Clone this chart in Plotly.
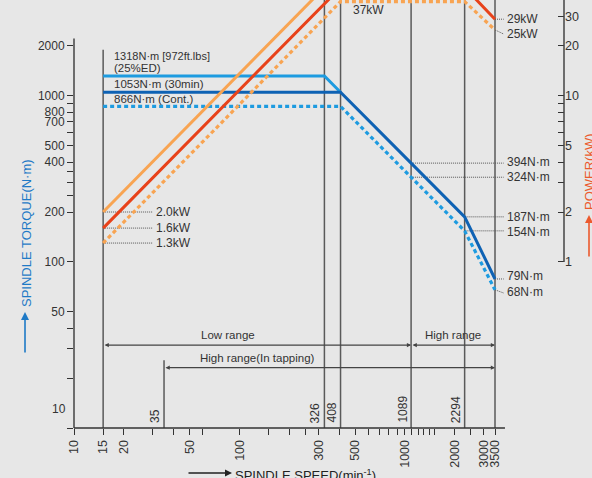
import numpy as np
import plotly.graph_objects as go

# ---- data -------------------------------------------------------------
# spindle speeds (min^-1) where the ratings change
speed_marks = [35, 326, 408, 1089, 2294]

# torque ratings (N·m)
t25_speed = [15, 326, 408]
t25_torque = [1318, 1318, 1053]
t30_speed = [15, 408, 1089, 2294, 3500]
t30_torque = [1053, 1053, 394, 187, 79]
tc_speed = [15, 408, 1089, 2294, 3500]
tc_torque = [866, 866, 324, 154, 68]

# power ratings (kW)
p25_speed = [15, 326]
p25_power = [2.0, 45]
p30_speed = [15, 408, 2294, 3500]
p30_power = [1.6, 45, 45, 29]
pc_speed = [15, 408, 2294, 3500]
pc_power = [1.3, 37, 37, 25]

# axis ticks
x_tickvals = [10, 15, 20, 30, 40, 50, 60, 100, 150, 200, 250, 300, 400, 500, 600,
              700, 800, 900, 1000, 1100, 1200, 1300, 1400, 1500, 2000, 2500, 3000, 3500]
x_labelled = [10, 15, 20, 50, 100, 300, 500, 1000, 2000, 3000, 3500]
t_tickvals = [10, 20, 30, 40, 50, 100, 200, 250, 300, 350, 400, 500, 600, 700, 800, 900, 1000, 2000]
t_labelled = [50, 100, 200, 400, 500, 700, 800, 1000, 2000]
p_tickvals = [1, 2, 3, 4, 5, 6, 7, 8, 9, 10, 20, 30]
p_labelled = [1, 2, 5, 10, 20, 30]

# ---- styles -----------------------------------------------------------
BG = "#e7e7e7"
INK = "#333333"
GRID = "#5a5a5a"
LIGHT_BLUE = "#1d9be0"
DARK_BLUE = "#0e62b4"
LIGHT_ORANGE = "#f8a452"
RED = "#e8421a"
FONT = "Liberation Sans, Arial, sans-serif"

X_RANGE = [1, 3.961]
T_RANGE = [1, 3.578]
P_RANGE = [T_RANGE[0] - 2, T_RANGE[1] - 2]

PLOT_L, PLOT_W, PLOT_B, PLOT_H = 74, 490, 50, 428


def px_to_paper(px, py):
    return (px - PLOT_L) / PLOT_W, (PLOT_H - py) / PLOT_H


def frac(v, rng):
    return (np.log10(v) - rng[0]) / (rng[1] - rng[0])


fig = go.Figure()


def line(xs, ys, color, width, dash="solid", axis="y"):
    fig.add_trace(go.Scatter(x=xs, y=ys, mode="lines", yaxis=axis,
                             line=dict(color=color, width=width, dash=dash),
                             hoverinfo="skip", showlegend=False))


# vertical guide lines
line([15, 15], [10, 1900], GRID, 1.5)
line([35, 35], [10, 25.6], GRID, 1.5)
for s in speed_marks[1:] + [3500]:
    line([s, s], [10, 20000], GRID, 1.5)

# range bars
LOW_Y, TAP_Y = 31.6, 23.1

# leader lines for torque labels
LEAD_END = 3950
leader = dict(color="#555555", width=1, dash="1px,1px")
for s, t, t_end in [(1089, 394, 394), (1089, 324, 324), (2294, 187, 187),
                    (2294, 154, 154), (3500, 79, 79), (3500, 68, 65)]:
    line([s, LEAD_END], [t, t_end], **leader)

# torque curves
line(tc_speed, tc_torque, LIGHT_BLUE, 3.2, "4px,3px")
line(t25_speed, t25_torque, LIGHT_BLUE, 3)
line(t30_speed, t30_torque, DARK_BLUE, 3)

# leader lines for power labels
for p in [p25_power[0], p30_power[0], pc_power[0]]:
    line([15, 30], [p, p], axis="y2", **leader)
line([3500, LEAD_END], [29, 29], axis="y2", **leader)
line([3500, LEAD_END], [25, 23.6], axis="y2", **leader)

# power curves
line(pc_speed, pc_power, LIGHT_ORANGE, 3.2, "4px,3px", axis="y2")
line(p25_speed, p25_power, LIGHT_ORANGE, 3, axis="y2")
line(p30_speed, p30_power, RED, 3, axis="y2")

annotations = []


def label(text, sx, v, axis="y", size=12, xanchor="left", yanchor="middle",
          xshift=0, yshift=0, angle=0, color=INK):
    annotations.append(dict(x=np.log10(sx), y=np.log10(v), xref="x", yref=axis,
                            text=text, showarrow=False, xanchor=xanchor,
                            yanchor=yanchor, xshift=xshift, yshift=yshift,
                            textangle=angle, font=dict(size=size, color=color)))


# torque rating labels
label("1318N·m [972ft.lbs]", 15, 1318, size=11, xshift=9, yshift=20)
label("(25%ED)", 15, 1318, size=11.5, xshift=9, yshift=8)
label("1053N·m (30min)", 15, 1053, size=11.5, xshift=9, yshift=8)
label("866N·m (Cont.)", 15, 866, size=11.5, xshift=9, yshift=7)

# power start labels
for p in [p25_power[0], p30_power[0], pc_power[0]]:
    label(f"{p:.1f}kW", 30, p, axis="y2", xshift=1)

label("37kW", 600, 37, axis="y2", xanchor="center", yshift=-8)
label("29kW", LEAD_END, 29, axis="y2", xshift=1)
label("25kW", LEAD_END, 25, axis="y2", xshift=1, yshift=-4)

# torque end labels
for t, dy in [(394, 1), (324, 0), (187, 0), (154, -1), (79, 3), (68, -2)]:
    label(f"{t}N·m", LEAD_END, t, xshift=1, yshift=dy)

# speed break labels
for s in speed_marks:
    label(str(s), s, 10, size=12, angle=-90, xanchor="right", yanchor="bottom",
          xshift=0, yshift=3)

# range bars
label("Low range", 85, LOW_Y, size=11.5, xanchor="center", yshift=10)
label("High range", 1952, LOW_Y, size=11.5, xanchor="center", yshift=10)
label("High range(In tapping)", 128, TAP_Y, size=11.5, xanchor="center", yshift=10)


def bar(s0, s1, t):
    annotations.append(dict(x=np.log10(s1), y=np.log10(t), ax=np.log10(s0), ay=np.log10(t),
                            xref="x", yref="y", axref="x", ayref="y", text="",
                            showarrow=True, arrowside="end+start", arrowhead=2,
                            startarrowhead=2, arrowsize=0.7, startarrowsize=0.7,
                            arrowwidth=1.2, arrowcolor="#444444"))


bar(15, 1089, LOW_Y)
bar(1089, 3500, LOW_Y)
bar(35, 3500, TAP_Y)

# axis titles
xp, yp = px_to_paper(26, 233)
annotations.append(dict(x=xp, y=yp, xref="paper", yref="paper", text="SPINDLE TORQUE(N·m)",
                        xanchor="center", yanchor="middle",
                        showarrow=False, textangle=-90, font=dict(size=13, color="#1f7ac6")))
xp, yp = px_to_paper(25, 312)
annotations.append(dict(x=xp, y=yp, xref="paper", yref="paper", text="", showarrow=True,
                        ax=0, ay=42, arrowhead=2, arrowsize=1, arrowwidth=1.6,
                        arrowcolor="#1f7ac6"))
xp, yp = px_to_paper(589, 172)
annotations.append(dict(x=xp, y=yp, xref="paper", yref="paper", text="POWER(kW)",
                        xanchor="center", yanchor="middle",
                        showarrow=False, textangle=-90, font=dict(size=13, color="#ec5a2e")))
xp, yp = px_to_paper(589, 215)
annotations.append(dict(x=xp, y=yp, xref="paper", yref="paper", text="", showarrow=True,
                        ax=0, ay=43, arrowhead=2, arrowsize=1, arrowwidth=1.6,
                        arrowcolor="#ec5a2e"))
xp, yp = px_to_paper(232, 473)
annotations.append(dict(x=xp, y=yp, xref="paper", yref="paper", text="", showarrow=True,
                        ax=-45, ay=0, arrowhead=2, arrowsize=1, arrowwidth=1.4,
                        arrowcolor="#222222"))
xp, yp = px_to_paper(233, 475)
annotations.append(dict(x=xp, y=yp, xref="paper", yref="paper", xanchor="left",
                        yanchor="middle",
                        text="SPINDLE SPEED(min<sup>-1</sup>)", showarrow=False,
                        font=dict(size=13, color="#222222")))
# lowest torque tick label sits just above the speed axis
xp, yp = px_to_paper(74, 418)
annotations.append(dict(x=xp, y=yp, xref="paper", yref="paper", xanchor="right", xshift=-6,
                        text="10", showarrow=False, font=dict(size=12, color=INK)))

# axis lines
shapes = [
    dict(type="line", xref="paper", yref="paper", x0=0, x1=0, y0=0,
         y1=frac(2220, T_RANGE), line=dict(color="#444444", width=1.5)),
    dict(type="line", xref="paper", yref="paper", x0=1, x1=1, y0=frac(1, P_RANGE),
         y1=1, line=dict(color="#444444", width=1.5)),
    dict(type="line", xref="paper", yref="paper", x0=0, x1=frac(4020, X_RANGE),
         y0=0, y1=0, line=dict(color="#333333", width=1.5)),
]

fig.update_layout(
    template="none",
    width=592, height=478,
    margin=dict(l=PLOT_L, r=592 - PLOT_L - PLOT_W, t=0, b=PLOT_B),
    paper_bgcolor=BG, plot_bgcolor=BG,
    font=dict(family=FONT, color=INK, size=12),
    showlegend=False,
    annotations=annotations,
    shapes=shapes,
    xaxis=dict(type="log", range=X_RANGE, tickvals=x_tickvals,
               ticktext=[str(v) if v in x_labelled else "" for v in x_tickvals],
               tickangle=-90, ticks="outside", ticklen=6, tickwidth=1, tickcolor=INK,
               tickfont=dict(size=12.5), showgrid=False, zeroline=False,
               showline=False, automargin=False),
    yaxis=dict(type="log", range=T_RANGE, tickvals=t_tickvals,
               ticktext=[str(v) if v in t_labelled else "" for v in t_tickvals],
               ticks="outside", ticklen=6, tickwidth=1, tickcolor=INK,
               tickfont=dict(size=12), showgrid=False, zeroline=False,
               showline=False, automargin=False),
    yaxis2=dict(type="log", range=P_RANGE, overlaying="y", side="right",
                tickvals=p_tickvals,
                ticktext=[str(v) if v in p_labelled else "" for v in p_tickvals],
                ticks="inside", ticklen=6, tickwidth=1, tickcolor=INK,
                tickfont=dict(size=12.5), showgrid=False, zeroline=False,
                showline=False, automargin=False),
)

fig.write_html("out.html")
